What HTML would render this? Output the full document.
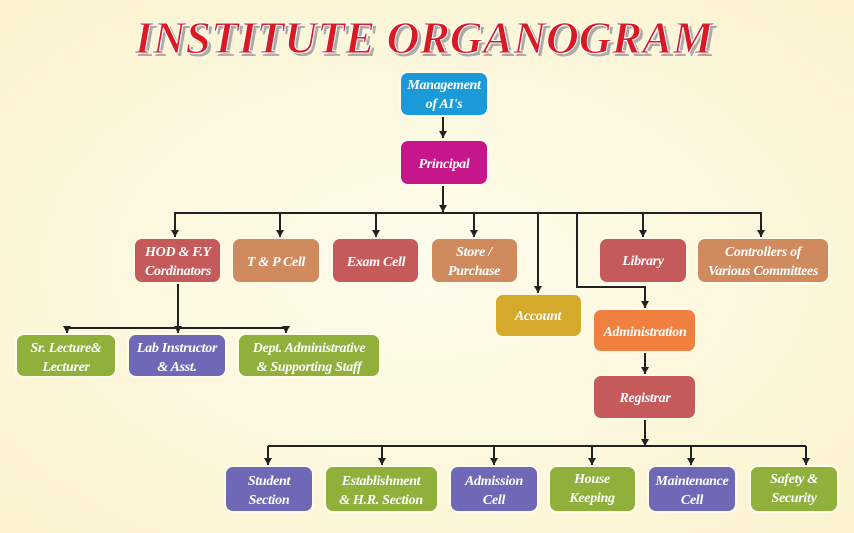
<!DOCTYPE html>
<html><head><meta charset="utf-8"><style>
body{margin:0;}
svg{display:block}
.t{font-family:"Liberation Serif",serif;font-style:italic;font-weight:bold;fill:#fff;font-size:14px;letter-spacing:-0.3px;text-anchor:middle}
</style></head><body>
<svg width="854" height="533" viewBox="0 0 854 533" xmlns="http://www.w3.org/2000/svg">
<defs>
<radialGradient id="bg" cx="0.5" cy="0.5" r="0.7"><stop offset="0" stop-color="#fefcec"/><stop offset="1" stop-color="#fbf3cf"/></radialGradient>
<marker id="a" markerWidth="8" markerHeight="8" refX="7" refY="4" orient="auto" markerUnits="userSpaceOnUse"><path d="M0,0 L7,4 L0,8 z" fill="#222"/></marker>
</defs>
<rect width="854" height="533" fill="url(#bg)"/>
<text x="424" y="53" text-anchor="middle" font-family="Liberation Serif,serif" font-weight="bold" font-style="italic" font-size="46" fill="#aaa" transform="translate(3,3)" textLength="578" lengthAdjust="spacingAndGlyphs">INSTITUTE ORGANOGRAM</text>
<text x="424" y="53" text-anchor="middle" font-family="Liberation Serif,serif" font-weight="bold" font-style="italic" font-size="46" fill="#d91a24" stroke="#fff" stroke-width="1" textLength="578" lengthAdjust="spacingAndGlyphs">INSTITUTE ORGANOGRAM</text>
<g stroke="#222" stroke-width="2" fill="none">
<line x1="443" y1="116" x2="443" y2="138" marker-end="url(#a)"/>
<line x1="443" y1="185" x2="443" y2="212" marker-end="url(#a)"/>
<line x1="174" y1="213" x2="762" y2="213"/>
<line x1="175" y1="213" x2="175" y2="237" marker-end="url(#a)"/>
<line x1="280" y1="213" x2="280" y2="237" marker-end="url(#a)"/>
<line x1="376" y1="213" x2="376" y2="237" marker-end="url(#a)"/>
<line x1="474" y1="213" x2="474" y2="237" marker-end="url(#a)"/>
<line x1="643" y1="213" x2="643" y2="237" marker-end="url(#a)"/>
<line x1="761" y1="213" x2="761" y2="237" marker-end="url(#a)"/>
<line x1="538" y1="213" x2="538" y2="293" marker-end="url(#a)"/>
<polyline points="577,213 577,287 645,287 645,308" marker-end="url(#a)"/>
<line x1="178" y1="283" x2="178" y2="333" marker-end="url(#a)"/>
<line x1="67" y1="328" x2="286" y2="328"/>
<line x1="67" y1="327" x2="67" y2="333" marker-end="url(#a)"/>
<line x1="286" y1="327" x2="286" y2="333" marker-end="url(#a)"/>
<line x1="645" y1="352" x2="645" y2="374" marker-end="url(#a)"/>
<line x1="645" y1="419" x2="645" y2="446" marker-end="url(#a)"/>
<line x1="268" y1="446" x2="806" y2="446"/>
<line x1="268" y1="446" x2="268" y2="465" marker-end="url(#a)"/>
<line x1="382" y1="446" x2="382" y2="465" marker-end="url(#a)"/>
<line x1="494" y1="446" x2="494" y2="465" marker-end="url(#a)"/>
<line x1="592" y1="446" x2="592" y2="465" marker-end="url(#a)"/>
<line x1="691" y1="446" x2="691" y2="465" marker-end="url(#a)"/>
<line x1="806" y1="446" x2="806" y2="465" marker-end="url(#a)"/>
</g>
<g stroke="#fffbea" stroke-width="2">
<rect x="400" y="72" width="88" height="44" rx="8" fill="#1a9ad8"/>
<rect x="400" y="140" width="88" height="45" rx="8" fill="#c7158a"/>
<rect x="134" y="238" width="87" height="45" rx="8" fill="#c45a5a"/>
<rect x="232" y="238" width="88" height="45" rx="8" fill="#cf8a5e"/>
<rect x="332" y="238" width="87" height="45" rx="8" fill="#c45a5a"/>
<rect x="431" y="238" width="87" height="45" rx="8" fill="#cf8a5e"/>
<rect x="599" y="238" width="88" height="45" rx="8" fill="#c45a5a"/>
<rect x="697" y="238" width="132" height="45" rx="8" fill="#cf8a5e"/>
<rect x="495" y="294" width="87" height="43" rx="8" fill="#d4aa2a"/>
<rect x="593" y="309" width="103" height="43" rx="8" fill="#f08040"/>
<rect x="593" y="375" width="103" height="44" rx="8" fill="#c45a5a"/>
<rect x="16" y="334" width="100" height="43" rx="8" fill="#8fb03a"/>
<rect x="128" y="334" width="98" height="43" rx="8" fill="#6e68b6"/>
<rect x="238" y="334" width="142" height="43" rx="8" fill="#8fb03a"/>
<rect x="225" y="466" width="88" height="46" rx="8" fill="#6e68b6"/>
<rect x="325" y="466" width="113" height="46" rx="8" fill="#8fb03a"/>
<rect x="450" y="466" width="88" height="46" rx="8" fill="#6e68b6"/>
<rect x="549" y="466" width="87" height="46" rx="8" fill="#8fb03a"/>
<rect x="648" y="466" width="88" height="46" rx="8" fill="#6e68b6"/>
<rect x="750" y="466" width="88" height="46" rx="8" fill="#8fb03a"/>
</g>
<g class="t">
<text x="444" y="89">Management</text><text x="444" y="108">of AI's</text>
<text x="444" y="168">Principal</text>
<text x="178" y="256">HOD &amp; F.Y</text><text x="178" y="275">Cordinators</text>
<text x="276" y="266">T &amp; P Cell</text>
<text x="376" y="266">Exam Cell</text>
<text x="474" y="256">Store /</text><text x="474" y="275">Purchase</text>
<text x="643" y="265">Library</text>
<text x="763" y="256">Controllers of</text><text x="763" y="275">Various Committees</text>
<text x="538" y="320">Account</text>
<text x="645" y="336">Administration</text>
<text x="645" y="402">Registrar</text>
<text x="66" y="352">Sr. Lecture&amp;</text><text x="66" y="371">Lecturer</text>
<text x="177" y="352">Lab Instructor</text><text x="177" y="371">&amp; Asst.</text>
<text x="309" y="352">Dept. Administrative</text><text x="309" y="371">&amp; Supporting Staff</text>
<text x="269" y="485">Student</text><text x="269" y="504">Section</text>
<text x="381" y="485">Establishment</text><text x="381" y="504">&amp; H.R. Section</text>
<text x="494" y="485">Admission</text><text x="494" y="504">Cell</text>
<text x="592" y="483">House</text><text x="592" y="502">Keeping</text>
<text x="692" y="485">Maintenance</text><text x="692" y="504">Cell</text>
<text x="794" y="483">Safety &amp;</text><text x="794" y="502">Security</text>
</g>
</svg>
</body></html>
